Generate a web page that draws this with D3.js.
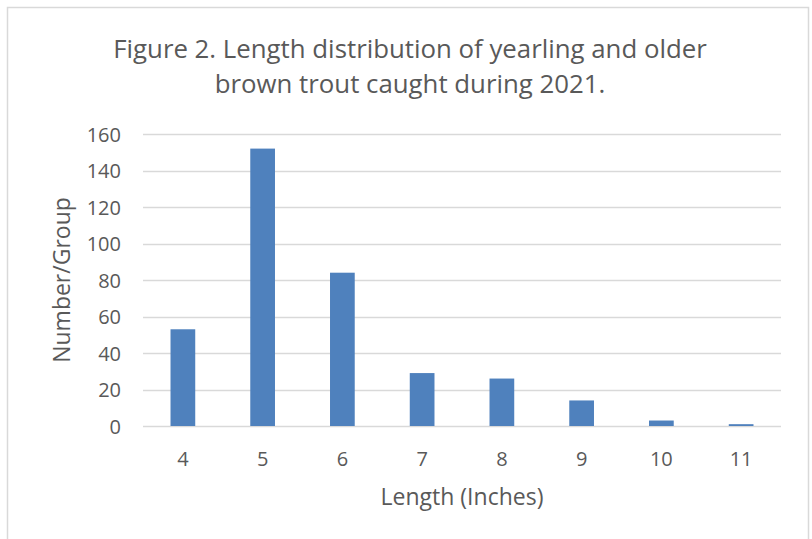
<!DOCTYPE html>
<html><head><meta charset="utf-8">
<script src="https://cdn.jsdelivr.net/npm/d3@7"></script>
<style>body{margin:0;background:#fff}svg{display:block}text{font-family:"Open Sans",sans-serif;fill:#595959}</style>
</head><body>
<svg id="c" width="812" height="539"></svg>
<script>
const categories = ["4","5","6","7","8","9","10","11"];
const values = [53,152,84,29,26,14,3,1];
const yTicks = [0,20,40,60,80,100,120,140,160];
const titleLines = ["Figure 2. Length distribution of yearling and older","brown trout caught during 2021."];
const xTitle = "Length (Inches)";
const yTitle = "Number/Group";

const svg = d3.select("#c");
svg.append("rect").attr("x",7.5).attr("y",7.5).attr("width",801).attr("height",560)
  .attr("fill","#fff").attr("stroke","#d9d9d9").attr("stroke-width",1.5);

const m = {left:143, right:781, top:134, bottom:426};
const x = d3.scaleBand().domain(categories).range([m.left,m.right]).paddingInner(0.69).paddingOuter(0.345);
const y = d3.scaleLinear().domain([0,160]).range([m.bottom,m.top]);

svg.append("g").selectAll("line").data(yTicks).join("line")
  .attr("x1",m.left).attr("x2",m.right)
  .attr("y1",d=>Math.round(y(d))+0.5).attr("y2",d=>Math.round(y(d))+0.5)
  .attr("stroke","#d9d9d9").attr("stroke-width",1.5);

svg.append("g").selectAll("rect").data(values).join("rect")
  .attr("x",(d,i)=>x(categories[i])).attr("width",x.bandwidth())
  .attr("y",d=>y(d)).attr("height",d=>y(0)-y(d))
  .attr("fill","#4f81bd");

const yAxis = d3.axisLeft(y).tickValues(yTicks).tickSize(0).tickPadding(0);
const ga = svg.append("g").attr("transform",`translate(${m.left-22},0)`).call(yAxis);
ga.select(".domain").remove();
ga.selectAll("text").attr("font-size",20).style("font-family","'Open Sans'").attr("fill","#595959").attr("dy","0.36em");

const xAxis = d3.axisBottom(x).tickSize(0).tickPadding(0);
const gx = svg.append("g").attr("transform",`translate(0,${m.bottom+40})`).call(xAxis);
gx.select(".domain").remove();
gx.selectAll("text").attr("font-size",20).style("font-family","'Open Sans'").attr("fill","#595959").attr("dy","0");

svg.append("text").attr("x",(m.left+m.right)/2).attr("y",505).attr("text-anchor","middle")
  .attr("font-size",23).text(xTitle);
svg.append("text").attr("transform",`translate(70,${(m.top+m.bottom)/2}) rotate(-90)`).attr("text-anchor","middle")
  .attr("font-size",23).text(yTitle);

svg.append("g").selectAll("text").data(titleLines).join("text")
  .attr("x",410).attr("y",(d,i)=>58+i*35).attr("text-anchor","middle")
  .attr("font-size",25.8).text(d=>d);
</script>
</body></html>
